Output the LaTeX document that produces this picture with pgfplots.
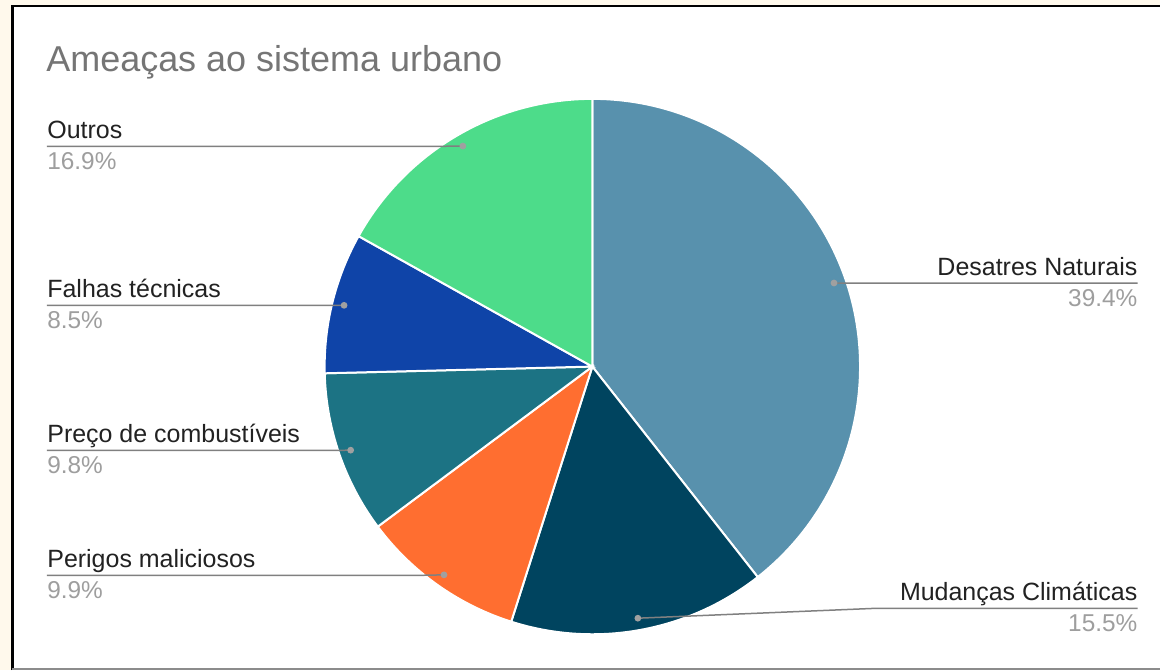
\documentclass[border=0pt]{standalone}
\usepackage{pgfplots}
\pgfplotsset{compat=1.18}
\usepackage{pgfplotstable}
\usepackage{fontspec}
\setmainfont{Liberation Sans}
\definecolor{c0}{HTML}{5891AD}
\definecolor{c1}{HTML}{00445F}
\definecolor{c2}{HTML}{FF6E30}
\definecolor{c3}{HTML}{1C7384}
\definecolor{c4}{HTML}{0F44A8}
\definecolor{c5}{HTML}{4DDC8A}
\definecolor{cream}{HTML}{FFF9EC}
\definecolor{titlec}{HTML}{757575}
\definecolor{namec}{HTML}{222222}
\definecolor{pctc}{HTML}{9E9E9E}
\definecolor{leadc}{HTML}{808080}
\definecolor{dotc}{HTML}{A0A0A0}

% value, leader knee x, label line y, line end x (pixel units, y up)
\pgfplotstableread{
value knee ly endx
39.4  860  387.5 1139
15.5  877  62    1139
9.9   420  95    47
9.8   330  220   47
8.5   320  365.2 47
16.9  440  524.5 47
}\piedata

\begin{document}
\begin{tikzpicture}
\begin{axis}[hide axis, scale only axis, x=0.5pt, y=0.5pt,
  xmin=0, xmax=1161, ymin=0, ymax=671, clip=false]
% background and frame
\fill[cream] (axis cs:0,0) rectangle (axis cs:1161,671);
\fill[white] (axis cs:12,1) rectangle (axis cs:1161,665);
\draw[black, line width=1.3pt] (axis cs:12.5,0) -- (axis cs:12.5,665) -- (axis cs:1161,665);
\draw[black!45, line width=0.8pt] (axis cs:12,1) -- (axis cs:1161,1);
% slices
\pgfmathsetmacro\angstart{90}
\pgfplotsforeachungrouped \i in {0,...,5}{%
  \pgfplotstablegetelem{\i}{value}\of\piedata \let\v\pgfplotsretval
  \pgfmathsetmacro\angend{\angstart-\v*3.6}%
  \edef\temp{\noexpand\fill[c\i, draw=white, line width=1pt] (axis cs:593,304) -- ++(\angstart:134pt) arc[start angle=\angstart, end angle=\angend, radius=134pt] -- cycle;}%
  \temp
  \let\angstart\angend
}
% leaders
\pgfmathsetmacro\angstart{90}
\pgfplotsforeachungrouped \i in {0,...,5}{%
  \pgfplotstablegetelem{\i}{value}\of\piedata \let\v\pgfplotsretval
  \pgfplotstablegetelem{\i}{knee}\of\piedata \let\kx\pgfplotsretval
  \pgfplotstablegetelem{\i}{ly}\of\piedata \let\ly\pgfplotsretval
  \pgfplotstablegetelem{\i}{endx}\of\piedata \let\ex\pgfplotsretval
  \pgfmathsetmacro\angend{\angstart-\v*3.6}%
  \pgfmathsetmacro\angmid{(\angstart+\angend)/2}%
  \pgfmathsetmacro\dx{593+256*cos(\angmid)}%
  \pgfmathsetmacro\dy{304+256*sin(\angmid)}%
  \edef\temp{\noexpand\draw[leadc, line width=0.75pt] (axis cs:\dx,\dy) -- (axis cs:\kx,\ly) -- (axis cs:\ex,\ly); \noexpand\fill[dotc] (axis cs:\dx,\dy) circle[radius=1.7pt];}%
  \temp
  \let\angstart\angend
}
% title
\node[anchor=base west, text=titlec, font=\fontsize{18}{21}\selectfont, inner sep=0pt] at (axis cs:46,599) {Ameaças ao sistema urbano};
% labels
\tikzset{nm/.style={text=namec, font=\fontsize{12.5}{14}\selectfont, inner sep=0pt},
         pc/.style={text=pctc, font=\fontsize{12.2}{14}\selectfont, inner sep=0pt}}
\node[nm, anchor=base east] at (axis cs:1139,395.5) {Desatres Naturais};
\node[pc, anchor=base east] at (axis cs:1139,364.5) {39.4\%};
\node[nm, anchor=base east] at (axis cs:1139,70) {Mudanças Climáticas};
\node[pc, anchor=base east] at (axis cs:1139,39) {15.5\%};
\node[nm, anchor=base west] at (axis cs:47,103) {Perigos maliciosos};
\node[pc, anchor=base west] at (axis cs:47,72) {9.9\%};
\node[nm, anchor=base west] at (axis cs:47,228) {Preço de combustíveis};
\node[pc, anchor=base west] at (axis cs:47,197) {9.8\%};
\node[nm, anchor=base west] at (axis cs:47,373.2) {Falhas técnicas};
\node[pc, anchor=base west] at (axis cs:47,342.2) {8.5\%};
\node[nm, anchor=base west] at (axis cs:47,532.5) {Outros};
\node[pc, anchor=base west] at (axis cs:47,501.5) {16.9\%};
\end{axis}
\end{tikzpicture}
\end{document}
